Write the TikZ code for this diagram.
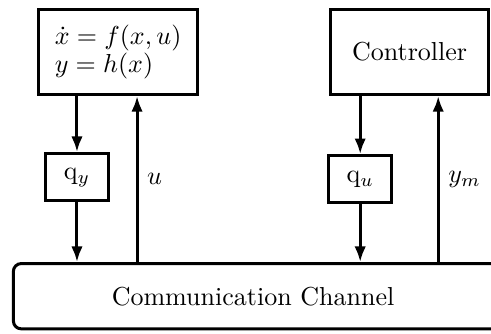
\documentclass[tikz,border=0pt]{standalone}
\usetikzlibrary{positioning}
\usetikzlibrary{arrows.meta}

\begin{document}
\begin{tikzpicture}[
  block/.style={rectangle,draw,line width=1.15pt},
  sig/.style={-{Latex[length=6pt,width=4.4pt]},line width=1.15pt}]
\useasboundingbox (0,0) rectangle (188.8pt,128.1pt);

\node[block,minimum width=61pt,minimum height=32.7pt,align=left] (plant) at (45.4pt,108.1pt) {$\dot{x} = f(x,u)$\\[-1.6pt]$y = h(x)$};
\node[block,minimum width=61pt,minimum height=32.7pt] (ctrl) at (157.5pt,108.1pt) {Controller};

\node[block,minimum width=24.3pt,minimum height=18.1pt] (qy) at (29.6pt,60pt) {q$_y$};
\node[block,minimum width=24.3pt,minimum height=18.1pt] (qu) at (138.5pt,59.2pt) {q$_u$};

\node[block,rounded corners=3pt,minimum width=194.3pt,minimum height=25.1pt] (chan) at (102.3pt,14.2pt) {};
\node (chantxt) at (97.3pt,14.2pt) {Communication Channel};

\coordinate (ux) at (52.7pt,0);
\coordinate (ymx) at (168.5pt,0);

\draw[sig] (qy.north |- plant.south) -- (qy.north);
\draw[sig] (qy.south) -- (qy.south |- chan.north);
\draw[sig] (ux |- chan.north) -- node[right] {$u$} (ux |- plant.south);

\draw[sig] (qu.north |- ctrl.south) -- (qu.north);
\draw[sig] (qu.south) -- (qu.south |- chan.north);
\draw[sig] (ymx |- chan.north) -- node[right] {$y_m$} (ymx |- ctrl.south);
\end{tikzpicture}
\end{document}
